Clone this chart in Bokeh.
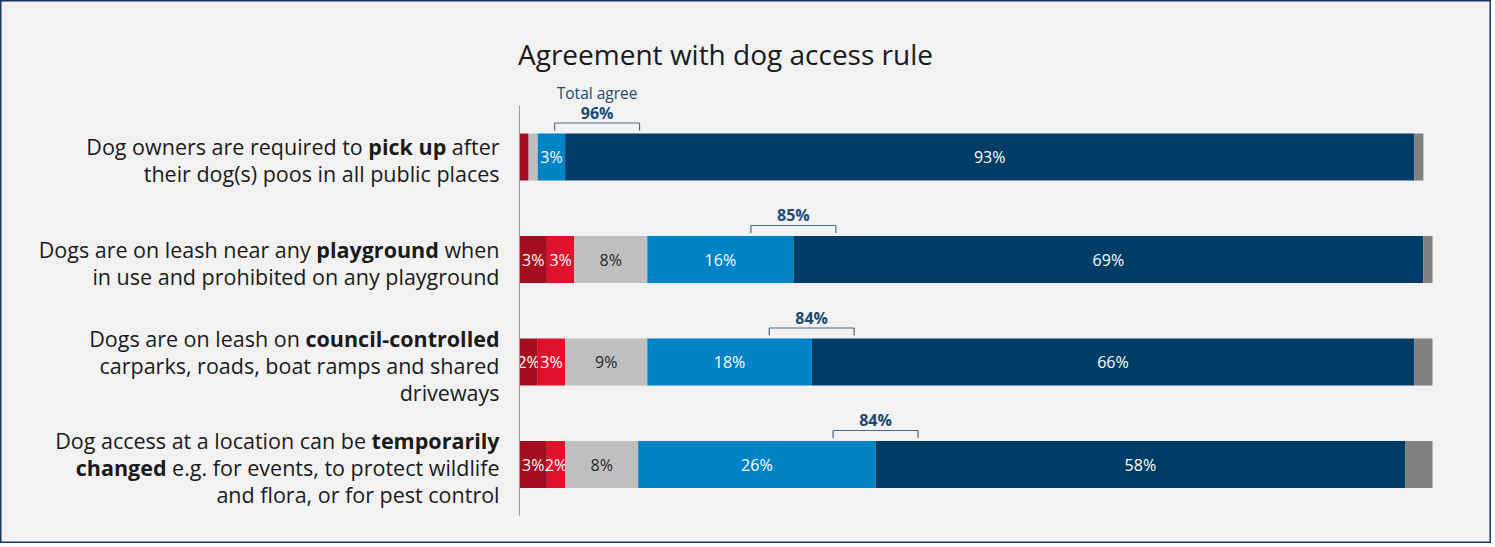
import glob
import os
import subprocess

import numpy as np
from bokeh.plotting import figure
from bokeh.models import ColumnDataSource, Range1d
from bokeh.core.properties import value
from bokeh.embed import file_html
from bokeh.resources import INLINE

# ---------------- data ----------------
categories = [
    "Dog owners are required to pick up after their dog(s) poos in all public places",
    "Dogs are on leash near any playground when in use and prohibited on any playground",
    "Dogs are on leash on council-controlled carparks, roads, boat ramps and shared driveways",
    "Dog access at a location can be temporarily changed e.g. for events, to protect wildlife and flora, or for pest control",
]
# label lines: runs of (text, bold)
label_lines = [
    [[("Dog owners are required to", False), ("pick up", True), ("after", False)],
     [("their dog(s) poos in all public places", False)]],
    [[("Dogs are on leash near any", False), ("playground", True), ("when", False)],
     [("in use and prohibited on any playground", False)]],
    [[("Dogs are on leash on", False), ("council-controlled", True)],
     [("carparks, roads, boat ramps and shared", False)],
     [("driveways", False)]],
    [[("Dog access at a location can be", False), ("temporarily", True)],
     [("changed", True), ("e.g. for events, to protect wildlife", False)],
     [("and flora, or for pest control", False)]],
]
strongly_disagree = [1, 3, 2, 3]
disagree = [0, 3, 3, 2]
neutral = [1, 8, 9, 8]
agree = [3, 16, 18, 26]
strongly_agree = [93, 69, 66, 58]
dont_know = [1, 1, 2, 3]
total_agree = [96, 85, 84, 84]

series = [strongly_disagree, disagree, neutral, agree, strongly_agree, dont_know]
colors = ["#a50d20", "#e0112b", "#bfbfbf", "#0083c6", "#003d66", "#808080"]
label_colors = ["white", "white", "#262626", "white", "white", None]

TITLE = "Agreement with dog access rule"
FONT = "Open Sans"
BG = "#f2f2f2"
NAVY = "#1b4a72"

# ---------------- geometry (page pixels) ----------------
W, H = 1491, 543
OX, OY = 0, 0                   # canvas origin on the captured page
ZERO_X = 519                    # page x of 0 %
PX_PER_PCT = 9.13
ROW0_Y, ROW_STEP, BAR_H = 156.5, 102.5, 47
LABEL_RIGHT = 499
LABEL_FS, LINE_H = 21.5, 27


def px_to_pct(px):
    return (px - ZERO_X) / PX_PER_PCT


# ---------------- text measuring ----------------
def find_font(bold):
    try:
        out = subprocess.run(["fc-match", "-f", "%{file}",
                              FONT + (":bold" if bold else ":regular")],
                             capture_output=True, text=True, timeout=5).stdout.strip()
        if out and os.path.exists(out):
            return out
    except Exception:
        pass
    names = ["OpenSans-Bold.ttf", "OpenSans-Bold*.ttf"] if bold else ["OpenSans-Regular.ttf", "OpenSans-Regular*.ttf"]
    names += ["OpenSans*.ttf"]
    roots = ["/usr/share/fonts", "/usr/local/share/fonts",
             os.path.expanduser("~/.fonts"), os.path.expanduser("~/.local/share/fonts")]
    for n in names:
        for r in roots:
            hits = glob.glob(os.path.join(r, "**", n), recursive=True)
            if hits:
                return hits[0]
    return None


_fonts = {}


def text_w(s, bold, size):
    key = (bold, size)
    if key not in _fonts:
        f = None
        try:
            from PIL import ImageFont
            path = find_font(bold)
            if path:
                f = ImageFont.truetype(path, size)
                try:
                    for nm in f.get_variation_names():
                        name = nm.decode() if isinstance(nm, bytes) else nm
                        if name.lower() == ("bold" if bold else "regular"):
                            f.set_variation_by_name(nm)
                            break
                except Exception:
                    pass
        except Exception:
            f = None
        _fonts[key] = f
    f = _fonts[key]
    if f is None:
        return len(s) * size * (0.58 if bold else 0.53)
    return f.getlength(s)


# ---------------- figure ----------------
p = figure(width=W, height=H, output_backend="svg", toolbar_location=None,
           x_range=Range1d(px_to_pct(OX), px_to_pct(OX + W)),
           y_range=Range1d(OY + H, OY), min_border=0,
           background_fill_color=BG, border_fill_color=BG,
           outline_line_color="#17375e", outline_line_width=2)
p.axis.visible = False
p.grid.visible = False

n = len(categories)
ys = [ROW0_Y + ROW_STEP * i for i in range(n)]
cum = np.zeros(n)
for vals, col, lc in zip(series, colors, label_colors):
    v = np.array(vals, dtype=float)
    left, right = cum.copy(), cum + v
    src = ColumnDataSource(dict(y=ys, left=left, right=right))
    p.hbar(y="y", left="left", right="right", height=BAR_H, source=src,
           fill_color=col, line_color=None)
    if lc is not None:
        keep = v >= 2
        lsrc = ColumnDataSource(dict(
            x=list((left + v / 2)[keep]), y=list(np.array(ys)[keep]),
            t=[f"{int(a)}%" for a in v[keep]]))
        p.text(x="x", y="y", text="t", source=lsrc, text_align="center",
               text_baseline="middle", text_color=lc, text_font_size="16px",
               text_font=value(FONT))
    cum = right

# axis line
p.segment(x0=[0], y0=[105], x1=[0], y1=[515], line_color="#9a9a9a", line_width=1)

# total agree brackets
agree_edge = np.array(strongly_disagree) + np.array(disagree) + np.array(neutral) + np.array(agree)
half = 4.65
bx0, by0, bx1, by1 = [], [], [], []
tx, ty, tt = [], [], []
for i in range(n):
    c = max(float(agree_edge[i]), 8.5)
    top = ys[i] - BAR_H / 2
    ly = top - 10.5
    bx0 += [c - half, c - half, c + half]
    bx1 += [c + half, c - half, c + half]
    by0 += [ly, ly, ly]
    by1 += [ly, top - 3, top - 3]
    tx.append(c)
    ty.append(top - 21)
    tt.append(f"{total_agree[i]}%")
    if i == 0:
        p.text(x=[c], y=[top - 41], text=["Total agree"], text_align="center",
               text_baseline="middle", text_color=NAVY, text_font_size="15.5px",
               text_font=value(FONT))
p.segment(x0=bx0, y0=by0, x1=bx1, y1=by1, line_color="#4a6a88", line_width=1.2)
p.text(x=tx, y=ty, text=tt, text_align="center", text_baseline="middle",
       text_color=NAVY, text_font_size="16px", text_font_style="bold",
       text_font=value(FONT))

# title
p.text(x=[px_to_pct(725)], y=[53], text=[TITLE], text_align="center",
       text_baseline="middle", text_color="#1a1a1a", text_font_size="28px",
       text_font=value(FONT))

# category labels with bold runs
space = text_w(" ", False, LABEL_FS)
norm = dict(x=[], y=[], t=[])
bold = dict(x=[], y=[], t=[])
for i, lines in enumerate(label_lines):
    k = len(lines)
    cy = ys[i] + 3
    for j, runs in enumerate(lines):
        ly = cy + (j - (k - 1) / 2) * LINE_H
        widths = [text_w(t, b, LABEL_FS) for t, b in runs]
        total = sum(widths) + space * (len(runs) - 1)
        x = LABEL_RIGHT - total
        for (t, b), w in zip(runs, widths):
            d = bold if b else norm
            d["x"].append(px_to_pct(x))
            d["y"].append(ly)
            d["t"].append(t)
            x += w + space
for d, st in ((norm, "normal"), (bold, "bold")):
    p.text(x="x", y="y", text="t", source=ColumnDataSource(d), text_align="left",
           text_baseline="middle", text_color="#1a1a1a", text_font_size=f"{LABEL_FS}px",
           text_font_style=st, text_font=value(FONT))

open("out.html", "w").write(file_html(p, INLINE))
